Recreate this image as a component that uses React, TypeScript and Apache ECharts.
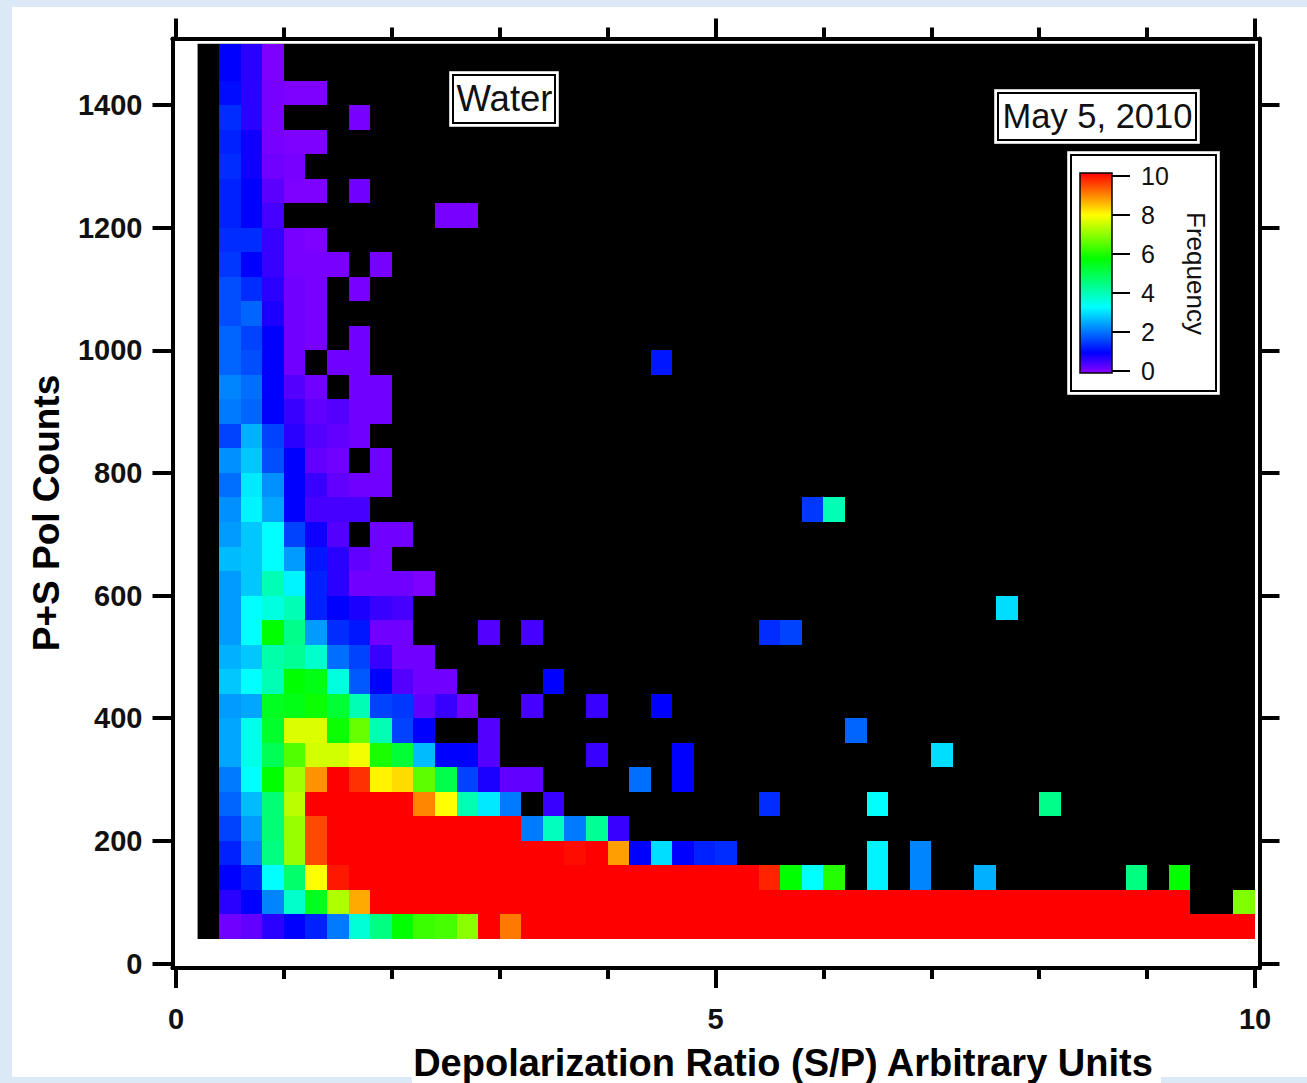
import React, { useEffect, useRef } from "react";
import * as echarts from "echarts";

const FONT = "Liberation Sans";

// Histogram bins: column c covers x = 0.2c + 0.2 .. +0.2, row r covers y = 40r + 40 .. +40
const binWidthX = 0.2;
const binWidthY = 40;
const firstBinX = 0.2;
const firstBinY = 40;
const topOfData = 1500;
const rightOfData = 10;

const t = 10;
const r00 = [0,.2,.3,.7,1,1.3,2.1,3.7,4.5,5.7,6.2,6.3,6.9,t,9,t,t,t,t,t,t,t,t,t,t,t,t,t,t,t,t,t,t,t,t,t,t,t,t,t,t,t,t,t,t,t,t,t,t];
const r01 = [0,.7,1,2.2,3.8,5.4,7.2,8.6,t,t,t,t,t,t,t,t,t,t,t,t,t,t,t,t,t,t,t,t,t,t,t,t,t,t,t,t,t,t,t,t,t,t,t,t,t,t,0,0,6.8];
const r02 = [0,1,1.3,3.3,4.7,7.9,9.8,t,t,t,t,t,t,t,t,t,t,t,t,t,t,t,t,t,t,t,9.7,5.7,3.3,6,0,3.2,0,2.2,0,0,2.6,0,0,0,0,0,0,4.5,0,5.7];
const r03 = [0,1.3,2.2,4.5,7,9.4,t,t,t,t,t,t,t,t,t,t,t,9.9,t,8.7,1,3,1,1.3,1.4,0,0,0,0,0,0,3.2,0,2.2];
const r04 = [0,1.6,2.4,4.6,7,9.4,t,t,t,t,t,t,t,t,t,2.1,3.9,2.1,4.3,.6];
const r05 = [0,1.9,2.7,4.6,7.3,t,t,t,t,t,8.9,7.9,4,3.1,2.1,0,.6,0,0,0,0,0,0,0,0,0,1.4,0,0,0,0,3.3,0,0,0,0,0,0,0,4.4];
const r06 = [0,2.1,3.3,5.7,7.1,8.8,t,9.6,8,8.2,6.5,5,1.6,.8,.3,.3,0,0,0,0,2,0,1];
const r07 = [0,2.5,3.5,4.9,6.4,7.5,7.5,7.8,5.9,5.2,2.7,1,1,.4,0,0,0,0,.6,0,0,0,1,0,0,0,0,0,0,0,0,0,0,0,3];
const r08 = [0,2.5,3.5,5.3,7.6,7.6,5.8,6.6,4,1.6,1,0,0,.4,0,0,0,0,0,0,0,0,0,0,0,0,0,0,0,0,1.9];
const r09 = [0,2.4,2.5,5.4,5.5,5.8,5.2,4,1.6,1.5,.3,.6,.2,0,0,.5,0,0,.6,0,0,1];
const r10 = [0,2.8,3.3,4,5.7,5.5,3.6,1.8,1,.4,.2,.2,0,0,0,0,1];
const r11 = [0,2.6,2.8,4.1,4.3,3.8,2,1.6,.6,.2,.2];
const r12 = [0,2.4,3.3,5.7,4.4,2.4,1.4,1.2,.2,.2,0,0,0,.4,0,.5,0,0,0,0,0,0,0,0,0,0,1.4,1.6];
const r13 = [0,2.4,3.3,3.6,4,1.3,1,.8,.6,.5,0,0,0,0,0,0,0,0,0,0,0,0,0,0,0,0,0,0,0,0,0,0,0,0,0,0,0,3];
const r14 = [0,2.4,2.8,4,3.2,1.3,.7,.2,.2,.2,.1];
const r15 = [0,2.7,2.8,3.3,2.4,1.2,.7,.3,.2];
const r16 = [0,2.4,2.8,3.3,1.6,.9,.4,0,.2,.2];
const r17 = [0,2.3,3.2,2.5,1,.5,.5,.5,0,0,0,0,0,0,0,0,0,0,0,0,0,0,0,0,0,0,0,0,1.5,4];
const r18 = [0,2,3.1,2.3,1,.6,.3,.2,.2];
const r19 = [0,2.3,2.8,1.7,1,.3,.2,0,.2];
const r20 = [0,1.6,2.6,1.6,.7,.4,.3,.2];
const r21 = [0,2.1,1.9,1,.6,.3,.4,.2,.2];
const r22 = [0,2.2,2,1,.4,.2,0,.2,.2];
const r23 = [0,1.9,1.7,1,.2,0,.2,.2,0,0,0,0,0,0,0,0,0,0,0,0,0,1.2];
const r24 = [0,1.9,1.6,1,.2,.15,0,.2];
const r25 = [0,1.7,1.9,.8,.2,.15];
const r26 = [0,1.7,1.4,.7,.2,.15,0,.15];
const r27 = [0,1.5,1,.6,.15,.15,.15,0,.15];
const r28 = [0,1.4,1.4,.6,.15,.1];
const r29 = [0,1.3,1,.5,0,0,0,0,0,0,0,.15,.15];
const r30 = [0,1.3,1,.35,.1,.1,0,.2];
const r31 = [0,1.4,.9,.2,.15];
const r32 = [0,1.3,.9,.15,.1,.1];
const r33 = [0,1.4,.7,.15,0,0,0,.15];
const r34 = [0,1.1,.7,.15,.1,.1];
const r35 = [0,1,.7,.1];
const r36 = [0,1,.7,.1];

const rows = [r00,r01,r02,r03,r04,r05,r06,r07,r08,r09,r10,r11,r12,r13,r14,r15,r16,r17,r18,r19,r20,r21,r22,r23,r24,r25,r26,r27,r28,r29,r30,r31,r32,r33,r34,r35,r36];

const xMajorTicks = [0, 5, 10];
const xMinorTicks = [1, 2, 3, 4, 6, 7, 8, 9];
const yTicks = [0, 200, 400, 600, 800, 1000, 1200, 1400];
const frequencyTicks = [0, 2, 4, 6, 8, 10];

// Colour table anchors: value on the colour bar, [r, g, b]
const anchors: [number, number[]][] = [
  [0, [140, 0, 255]],
  [1, [0, 0, 255]],
  [3.3, [0, 255, 255]],
  [5.7, [0, 255, 0]],
  [7.9, [255, 255, 0]],
  [10, [255, 0, 0]],
];
const rainbow: string[] = [];
for (let i = 0; i <= 100; i++) {
  const v = i / 10;
  let k = 0;
  while (k < anchors.length - 2 && v > anchors[k + 1][0]) k++;
  const [v0, c0] = anchors[k];
  const [v1, c1] = anchors[k + 1];
  const f = (v - v0) / (v1 - v0);
  rainbow.push(`rgb(${c0.map((c, j) => Math.round(c + (c1[j] - c) * f)).join(",")})`);
}

const cells: number[][] = [];
rows.forEach((row, r) => row.forEach((v, c) => {
  if (v > 0) cells.push([firstBinX + c * binWidthX, firstBinY + r * binWidthY, v]);
}));

const X_MIN = -0.0324, X_MAX = 10.0417, Y_MIN = -7.3, Y_MAX = 1508.5;

const boxed = (x: number, y: number, w: number, h: number) => [
  { type: "rect", z: 10, shape: { x, y, width: w, height: h }, style: { fill: "#ffffff", stroke: "#c8c8c8", lineWidth: 1 } },
  { type: "rect", z: 10, shape: { x: x + 3.5, y: y + 3.5, width: w - 7, height: h - 7 }, style: { fill: "#ffffff", stroke: "#000000", lineWidth: 2 } },
];

export default function App() {
  const ref = useRef<HTMLDivElement>(null);
  useEffect(() => {
    const chart = echarts.init(ref.current!, undefined, { renderer: "svg" });
    const line = { show: true, onZero: false, lineStyle: { color: "#000", width: 4 } };
    const xAxis = (position: string, ticks: number[], len: number, labels: boolean) => ({
      type: "value", gridIndex: 0, position, min: X_MIN, max: X_MAX, axisLine: line,
      splitLine: { show: false },
      axisTick: { show: true, customValues: ticks, length: len, lineStyle: { color: "#000", width: 4 } },
      axisLabel: labels
        ? { show: true, customValues: ticks, margin: 36, fontFamily: FONT, fontWeight: "bold", fontSize: 29, color: "#111", formatter: (v: number) => String(v) }
        : { show: false },
    });
    const yAxis = (position: string, labels: boolean) => ({
      type: "value", gridIndex: 0, position, min: Y_MIN, max: Y_MAX, axisLine: line,
      splitLine: { show: false },
      axisTick: { show: true, customValues: yTicks, length: 20, lineStyle: { color: "#000", width: 4 } },
      axisLabel: labels
        ? { show: true, customValues: yTicks, margin: 30, fontFamily: FONT, fontWeight: "bold", fontSize: 29, color: "#111", formatter: (v: number) => String(v) }
        : { show: false },
    });
    chart.setOption({
      animation: false,
      backgroundColor: "#dbe8f5",
      grid: [
        { left: 172.5, top: 38.5, width: 1087, height: 929.5 },
        { left: 1080, top: 176, width: 32, height: 195 },
      ],
      xAxis: [
        xAxis("bottom", xMajorTicks, 20, true),
        xAxis("bottom", xMinorTicks, 11, false),
        xAxis("top", xMajorTicks, 20, false),
        xAxis("top", xMinorTicks, 11, false),
        { type: "value", gridIndex: 1, min: 0, max: 1, show: false },
      ],
      yAxis: [
        yAxis("left", true),
        yAxis("right", false),
        {
          type: "value", gridIndex: 1, position: "right", min: 0, max: 10, interval: 2, z: 20,
          splitLine: { show: false },
          axisLine: { show: false, onZero: false },
          axisTick: { show: true, length: 18, lineStyle: { color: "#000", width: 2 } },
          axisLabel: { show: true, margin: 29, fontFamily: FONT, fontSize: 25, color: "#111", customValues: frequencyTicks },
          name: "Frequency", nameLocation: "middle", nameRotate: -90, nameGap: 71,
          nameTextStyle: { fontFamily: FONT, fontSize: 26, color: "#111" },
        },
      ],
      visualMap: {
        type: "continuous", seriesIndex: 1, dimension: 2, min: 0, max: 10, calculable: false, hoverLink: false,
        left: 1080, top: 173, itemWidth: 32, itemHeight: 200, padding: 0, z: 20, show: true,
        inRange: { color: rainbow },
      },
      graphic: [
        { type: "rect", z: -1, shape: { x: 12, y: 7, width: 1295, height: 1070 }, style: { fill: "#ffffff" } },
        { type: "rect", z: -1, shape: { x: 412, y: 1040, width: 749, height: 43 }, style: { fill: "#ffffff" } },
        ...boxed(449.5, 71.5, 109, 55),
        { type: "text", z: 11, style: { x: 504.5, y: 98, text: "Water", font: `36.5px "${FONT}"`, fill: "#111", align: "center", verticalAlign: "middle" } },
        ...boxed(994.5, 89.5, 205, 54),
        { type: "text", z: 11, style: { x: 1097.5, y: 116, text: "May 5, 2010", font: `34.5px "${FONT}"`, fill: "#111", align: "center", verticalAlign: "middle" } },
        ...boxed(1067.5, 151.5, 152, 243),
        { type: "rect", z: 21, shape: { x: 1080, y: 173, width: 32, height: 200 }, style: { fill: "none", stroke: "#000", lineWidth: 1.5 } },
        { type: "text", z: 11, style: { x: 783, y: 1063, text: "Depolarization Ratio (S/P) Arbitrary Units", font: `bold 38px "${FONT}"`, fill: "#000", align: "center", verticalAlign: "middle" } },
        { type: "text", z: 11, rotation: Math.PI / 2, x: 46, y: 513, style: { x: 0, y: 0, text: "P+S Pol Counts", font: `bold 37px "${FONT}"`, fill: "#000", align: "center", verticalAlign: "middle" } },
      ],
      series: [
        {
          type: "custom", xAxisIndex: 0, yAxisIndex: 0, z: 1, silent: true,
          data: [[firstBinX, firstBinY, rightOfData, topOfData]],
          renderItem: (_p: any, api: any) => {
            const a = api.coord([api.value(0), api.value(3)]);
            const b = api.coord([api.value(2), api.value(1)]);
            return { type: "rect", shape: { x: a[0], y: a[1], width: b[0] - a[0], height: b[1] - a[1] }, style: { fill: "#000" } };
          },
        },
        {
          type: "custom", xAxisIndex: 0, yAxisIndex: 0, z: 2, silent: true,
          encode: { x: 0, y: 1 },
          data: cells,
          renderItem: (_p: any, api: any) => {
            const x0 = api.value(0), y0 = api.value(1);
            const a = api.coord([x0, Math.min(y0 + binWidthY, topOfData)]);
            const b = api.coord([x0 + binWidthX, y0]);
            const left = Math.round(a[0]), top = Math.round(a[1]);
            const right = Math.round(b[0]), bottom = Math.round(b[1]);
            return { type: "rect", shape: { x: left, y: top, width: right - left, height: bottom - top }, style: { fill: api.visual("color") } };
          },
        },
      ],
    });
    return () => chart.dispose();
  }, []);
  return <div ref={ref} style={{ position: "absolute", left: 0, top: 0, width: 1307, height: 1083 }} />;
}
